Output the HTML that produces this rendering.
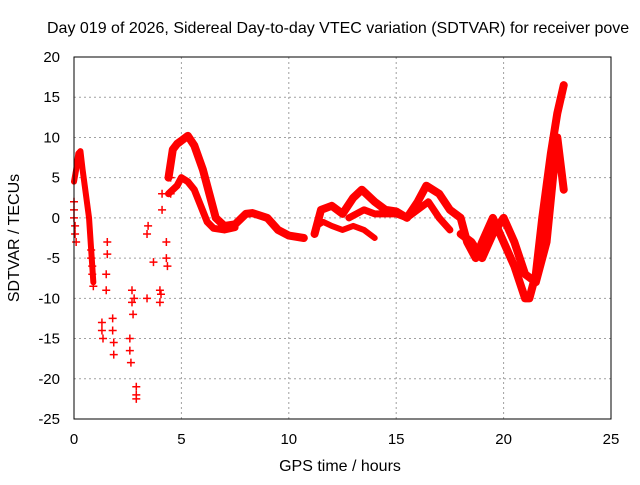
<!DOCTYPE html>
<html><head><meta charset="utf-8"><style>
body{margin:0;background:#fff;}
svg text{font-family:"Liberation Sans",sans-serif;fill:#000;}
</style></head><body>
<svg id="chart" width="640" height="480" xmlns="http://www.w3.org/2000/svg">
<rect width="640" height="480" fill="#fff"/>
<text x="47" y="33" font-size="16">Day 019 of 2026, Sidereal Day-to-day VTEC variation (SDTVAR) for receiver pove</text>
<g id="grid"></g>
<g id="marks"></g>
<rect x="74" y="57" width="537" height="362" fill="none" stroke="#000" stroke-width="1"/>
<g id="ticks"></g>
<text x="340" y="471" font-size="16" text-anchor="middle">GPS time / hours</text>
<text transform="translate(19,238) rotate(-90)" font-size="16" text-anchor="middle">SDTVAR / TECUs</text>
</svg>
<script>
const xTicks=[0,5,10,15,20,25];
const yTicks=[20,15,10,5,0,-5,-10,-15,-20,-25];
// continuous tracks: hours and values
const trackAx=[0.0,0.1,0.2,0.3,0.4,0.5,0.6,0.7,0.8,0.9];
const trackAy=[4.5,6,8,8.3,6,4,2,0,-4,-8];
const trackBx=[4.4,4.6,4.8,5.0,5.3,5.6,6.0,6.3,6.6,7.0,7.5,8.0,8.3,9.0,9.5,10.0,10.7];
const trackBy=[5,8.5,9.2,9.6,10.2,9,6,3,0,-1,-0.8,0.5,0.6,0,-1.5,-2.2,-2.5];
const trackCx=[4.4,4.8,5.0,5.3,5.6,5.9,6.2,6.5,7.0,7.5];
const trackCy=[3,4,5,4.5,3.5,1.5,-0.5,-1.3,-1.5,-1.2];
const trackDx=[11.2,11.5,12.0,12.5,13.0,13.4,14.0,14.5,15.0,15.5,16.0,16.4,17.0,17.5,18.0,18.3,18.7,19.0,19.5,20.0,20.5,21.0,21.2,21.5,21.8,22.2,22.5,22.8];
const trackDy=[-2,1,1.5,0.5,2.5,3.5,2,1,0.8,0,2,4,3,1,0,-3,-5,-3,0,-3,-6,-10,-10,-7,0,8,13,16.5];
const trackEx=[11.3,11.6,12.0,12.5,13.0,13.5,14.0];
const trackEy=[-1,-0.5,-1,-1.5,-1,-1.5,-2.5];
const trackFx=[12.8,13.5,14.0,15.0,15.5,16.0,16.5,17.0,17.5];
const trackFy=[0,1,0.5,0.5,0,1,2,0,-1.5];
const trackGx=[18.0,18.5,19.0,19.5,20.0,20.5,21.0,21.5,22.0,22.3,22.5,22.8];
const trackGy=[-2,-3,-5,-2,0,-3,-7,-8,-3,5,10,3.5];
// sparse plus markers
const ptsX=[0.0,0.0,0.0,0.05,0.05,0.1,0.8,0.8,0.85,0.85,0.9,1.3,1.3,1.35,1.5,1.5,1.55,1.55,1.8,1.8,1.85,1.85,2.6,2.6,2.65,2.7,2.7,2.75,2.8,2.9,2.9,2.9,3.4,3.4,3.45,3.7,4.0,4.0,4.05,4.1,4.1,4.3,4.3,4.35,4.5,4.5];
const ptsY=[2,1,0,-1,-2,-3,-4,-5,-6,-7,-8.5,-13,-14,-15,-7,-9,-3,-4.5,-12.5,-14,-15.5,-17,-15,-16.5,-18,-9,-10.5,-12,-10,-21,-22,-22.5,-10,-2,-1,-5.5,-9,-10.5,-9.5,1,3,-3,-5,-6,3,5];
const X=h=>74+h*21.48, Y=v=>57+(20-v)*8.044;
const NS='http://www.w3.org/2000/svg';
const grid=document.getElementById('grid'),ticks=document.getElementById('ticks'),marks=document.getElementById('marks');
function mk(t,a,p){const e=document.createElementNS(NS,t);for(const k in a)e.setAttribute(k,a[k]);p.appendChild(e);return e;}
xTicks.forEach(t=>{
  if(t>0&&t<25){const g=mk('line',{x1:X(t),x2:X(t),y1:57,y2:419,stroke:'#a0a0a0','stroke-dasharray':'2,3'},grid);
  
  }
  const l=mk('text',{x:X(t),y:444,'font-size':15,'text-anchor':'middle'},ticks);l.textContent=t;
  
  
});
yTicks.forEach(t=>{
  if(t<20&&t>-25){const g=mk('line',{x1:74,x2:611,y1:Y(t),y2:Y(t),stroke:'#a0a0a0','stroke-dasharray':'2,3'},grid);
  
  }
  const l=mk('text',{x:60,y:Y(t)+5,'font-size':15,'text-anchor':'end'},ticks);l.textContent=t;
  
  
});
[[trackAx,trackAy,6],[trackBx,trackBy,8],[trackCx,trackCy,7],[trackDx,trackDy,8],[trackEx,trackEy,6],[trackFx,trackFy,7],[trackGx,trackGy,8]].forEach(([xs,ys,w])=>{
  const p=mk('polyline',{points:xs.map((x,i)=>X(x)+','+Y(ys[i])).join(' '),fill:'none',stroke:'#ff0000','stroke-width':w,'stroke-linejoin':'round','stroke-linecap':'round'},marks);
  
  
});
ptsX.forEach((x,i)=>{
  const cx=X(x),cy=Y(ptsY[i]);
  const p=mk('path',{d:`M${cx-4},${cy}H${cx+4}M${cx},${cy-4}V${cy+4}`,stroke:'#ff0000','stroke-width':1.5},marks);
  
  
});
</script>
</body></html>
